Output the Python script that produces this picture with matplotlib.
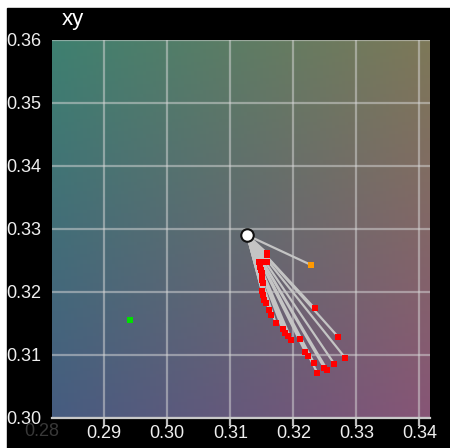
import numpy as np
import matplotlib
matplotlib.use("Agg")
import matplotlib.pyplot as plt
from matplotlib.patches import Rectangle

plt.rcParams['font.family'] = ['Liberation Sans', 'DejaVu Sans']

# white point (D65)
white_x, white_y = 0.3127, 0.3290

# measured chromaticities (red)
red_x = [0.3158, 0.3159, 0.3146, 0.3150, 0.3155, 0.3159, 0.3147, 0.3148, 0.3150,
         0.3151, 0.3150, 0.3152, 0.3151, 0.3152, 0.3154, 0.3156, 0.3162, 0.3164,
         0.3172, 0.3183, 0.3187, 0.3192, 0.3197, 0.3211, 0.3219, 0.3224, 0.3233,
         0.3238, 0.3249, 0.3254, 0.3265, 0.3282, 0.3271, 0.3234]
red_y = [0.3262, 0.3259, 0.3248, 0.3247, 0.3247, 0.3248, 0.3240, 0.3235, 0.3230,
         0.3224, 0.3219, 0.3215, 0.3202, 0.3195, 0.3187, 0.3183, 0.3171, 0.3163,
         0.3151, 0.3141, 0.3135, 0.3130, 0.3124, 0.3126, 0.3105, 0.3098, 0.3087,
         0.3072, 0.3080, 0.3076, 0.3086, 0.3096, 0.3129, 0.3174]

orange_x, orange_y = 0.3228, 0.3243
green_x, green_y = 0.2941, 0.3156

xticks = [0.29, 0.30, 0.31, 0.32, 0.33, 0.34]
yticks = [0.30, 0.31, 0.32, 0.33, 0.34, 0.35, 0.36]
xlim = (0.2817, 0.3417)
ylim = (0.30, 0.36)

fig = plt.figure(figsize=(4.5, 4.48), dpi=100, facecolor='white')
fig.patches.append(Rectangle((7 / 450, 0), 443 / 450, 440 / 448,
                             transform=fig.transFigure, color='black', zorder=-10))

ax = fig.add_axes([52 / 450, 30 / 448, 378 / 450, 378 / 448])
ax.set_facecolor('black')

# background gradient (corner colours)
tl = np.array([62, 128, 112]) / 255
tr = np.array([125, 120, 88]) / 255
bl = np.array([70, 92, 128]) / 255
br = np.array([135, 85, 118]) / 255
n = 120
u = np.linspace(0, 1, n)[None, :, None]
v = np.linspace(0, 1, n)[:, None, None]
top = tl * (1 - u) + tr * u
bot = bl * (1 - u) + br * u
img = top * (1 - v) + bot * v
ax.imshow(img, extent=[xlim[0], xlim[1], ylim[0], ylim[1]], origin='upper',
          aspect='auto', zorder=0)

ax.set_xlim(xlim)
ax.set_ylim(ylim)
ax.set_xticks(xticks)
ax.set_yticks(yticks)
ax.set_xticklabels([f'{t:.2f}' for t in xticks])
ax.set_yticklabels([f'{t:.2f}' for t in yticks])
ax.grid(True, color='#d8d8d8', alpha=0.5, linewidth=1.6, zorder=1)
ax.tick_params(axis='x', colors='#bbbbbb', labelcolor='#eeeeee', length=6,
               width=1.6, direction='out', pad=-1, labelsize=13)
ax.tick_params(axis='y', length=0, pad=8, labelcolor='#eeeeee', labelsize=13)
for s in ['top', 'left', 'right']:
    ax.spines[s].set_visible(False)
ax.spines['bottom'].set_color('#c8c8c8')
ax.spines['bottom'].set_linewidth(1.6)

# faded label outside the axes
ax.text(0.28, -0.037, '0.28', transform=ax.get_xaxis_transform(), ha='center',
        va='center', color='#383838', fontsize=13, clip_on=False)

# lines from white point
for x, y in zip(red_x, red_y):
    ax.plot([white_x, x], [white_y, y], color='#c4c4c4', lw=1.6, zorder=2,
            solid_capstyle='round')
ax.plot([white_x, orange_x], [white_y, orange_y], color='#c4c4c4', lw=1.6, zorder=2)

ax.plot(red_x, red_y, 's', color='#ff0000', ms=4.2, mew=0, zorder=3)
ax.plot([orange_x], [orange_y], 's', color='#ff9900', ms=4.2, mew=0, zorder=3)
ax.plot([green_x], [green_y], 's', color='#00e000', ms=4.2, mew=0, zorder=3)
ax.plot([white_x], [white_y], 'o', mfc='white', mec='#111111', ms=9, mew=1.5, zorder=4)

fig.text(62 / 450, 1 - 20 / 448, 'xy', color='white', fontsize=16, va='center', ha='left')

fig.savefig('out.png', dpi=100, facecolor=fig.get_facecolor())
